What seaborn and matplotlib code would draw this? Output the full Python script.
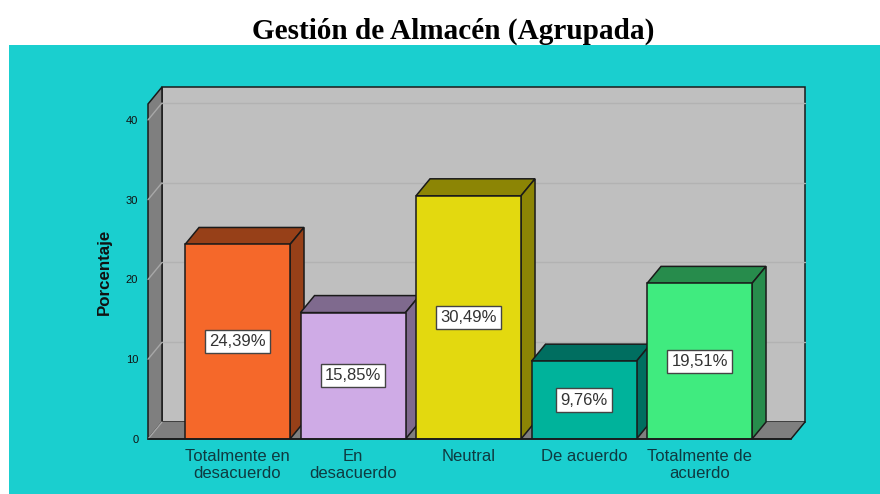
import pandas as pd
import matplotlib
matplotlib.use("Agg")
import matplotlib.pyplot as plt
import seaborn as sns
from matplotlib.patches import Polygon, Rectangle

categories = ["Totalmente en\ndesacuerdo", "En\ndesacuerdo", "Neutral", "De acuerdo", "Totalmente de\nacuerdo"]
values = [24.39, 15.85, 30.49, 9.76, 19.51]
value_labels = ["24,39%", "15,85%", "30,49%", "9,76%", "19,51%"]
yticks = [0, 10, 20, 30, 40]
title = "Gestión de Almacén (Agrupada)"
ylabel = "Porcentaje"

front_colors = ["#F5682A", "#CFABE6", "#E3D90F", "#00B39B", "#40EB7F"]
dark_colors = ["#974018", "#7F6A8E", "#8C8505", "#006E60", "#278C4C"]
teal = "#1ACFCF"
edge = "#1A1A1A"

W, H = 880, 494
# front plane of the chart, in pixels
x0, x1, y_top, y_base = 148, 791, 104, 439

sns.set_theme(style="white")
plt.rcParams["font.family"] = ["Liberation Sans", "DejaVu Sans"]

fig = plt.figure(figsize=(W / 100, H / 100), dpi=100, facecolor="white")
fig.patches.append(Rectangle((9 / W, 0), (W - 9) / W, (H - 45) / H, transform=fig.transFigure,
                             facecolor=teal, edgecolor="none", figure=fig, zorder=-1))
ax = fig.add_axes([x0 / W, 1 - y_base / H, (x1 - x0) / W, (y_base - y_top) / H])
ax.patch.set_alpha(0)

df = pd.DataFrame({"cat": categories, "val": values})
sns.barplot(data=df, x="cat", y="val", hue="cat", palette=front_colors, legend=False, saturation=1,
            width=0.909, edgecolor=edge, linewidth=1.1, ax=ax, zorder=3)
bars = list(ax.patches)

ax.set_ylim(0, 42)
ax.set_xlim(-0.775, 4.792)

# depth of the fake 3D box, in data units
dx = 14 / 115.5
dy = 17 / 7.98
xl, xr = ax.get_xlim()
ytop = ax.get_ylim()[1]

wall = dict(edgecolor=edge, linewidth=1.1, zorder=0.5, clip_on=False)
ax.add_patch(Polygon([(xl + dx, dy), (xr + dx, dy), (xr + dx, ytop + dy), (xl + dx, ytop + dy)],
                     facecolor="#BFBFBF", **wall))
ax.add_patch(Polygon([(xl, 0), (xl + dx, dy), (xl + dx, ytop + dy), (xl, ytop)],
                     facecolor="#7F7F7F", **wall))
ax.add_patch(Polygon([(xl, 0), (xr, 0), (xr + dx, dy), (xl + dx, dy)],
                     facecolor="#7F7F7F", edgecolor="none", zorder=0.6, clip_on=False))
ax.plot([xr + dx, xr, xl], [dy, 0, 0], color=edge, lw=1.1, zorder=0.7, clip_on=False)

# gridlines run along the left wall and the back wall
for t in yticks[1:]:
    ax.plot([xl + dx, xr + dx], [t + dy, t + dy], color="#B2B2B2", lw=1, zorder=0.7, clip_on=False)
    ax.plot([xl, xl + dx], [t, t + dy], color="#A8A8A8", lw=1, zorder=0.7, clip_on=False)
ax.plot([xl, xl + dx], [0, dy], color="#A8A8A8", lw=1, zorder=0.7, clip_on=False)

for bar, dark, label in zip(bars, dark_colors, value_labels):
    left, right, h = bar.get_x(), bar.get_x() + bar.get_width(), bar.get_height()
    ax.add_patch(Polygon([(left, h), (right, h), (right + dx, h + dy), (left + dx, h + dy)],
                         facecolor=dark, edgecolor=edge, linewidth=1.1, zorder=2, clip_on=False))
    ax.add_patch(Polygon([(right, 0), (right + dx, dy), (right + dx, h + dy), (right, h)],
                         facecolor=dark, edgecolor=edge, linewidth=1.1, zorder=2, clip_on=False))
    ax.text((left + right) / 2, h / 2, label, ha="center", va="center", fontsize=12, color="#333333", zorder=5,
            bbox=dict(boxstyle="square,pad=0.25", facecolor="white", edgecolor="#444444", linewidth=1))

sns.despine(ax=ax, top=True, right=True, left=True, bottom=False)
ax.spines["bottom"].set_color(edge)
ax.spines["bottom"].set_linewidth(1.2)
ax.spines["bottom"].set_zorder(4)

ax.set_yticks(yticks)
ax.set_yticklabels([str(t) for t in yticks], fontsize=8, color="#111111")
ax.tick_params(axis="y", left=False, length=0, pad=7)
ax.tick_params(axis="x", bottom=False, length=0, pad=7, labelsize=12, labelcolor="#0F3A40")
for lab in ax.get_xticklabels():
    lab.set_linespacing(1.22)
ax.set_xlabel("")
ax.set_ylabel(ylabel, fontsize=12.2, fontweight="bold", color="#111111", labelpad=10)

fig.text(453 / W, 1 - 31 / H, title, ha="center", va="center", fontsize=21.1, fontweight="bold",
         family=["Liberation Serif", "DejaVu Serif"], color="black")

fig.savefig("out.png", dpi=100, facecolor="white")
